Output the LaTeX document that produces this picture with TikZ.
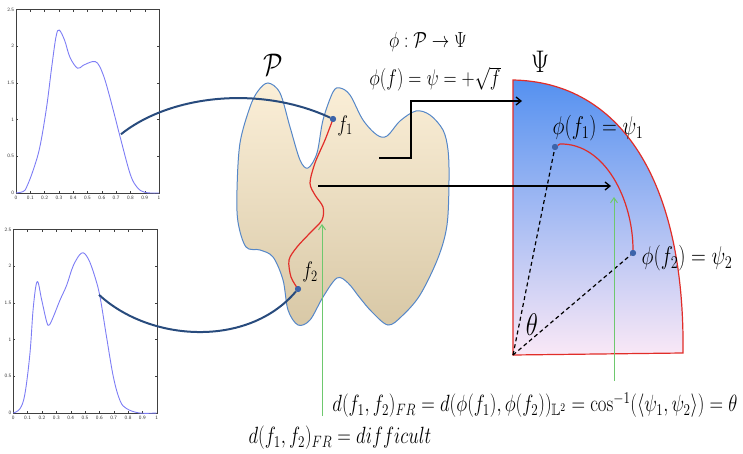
\RequirePackage{fix-cm}
\documentclass[tikz,border=0pt]{standalone}
\usepackage{amsmath, amssymb}
\usepackage{graphicx}
\usetikzlibrary{positioning, arrows.meta}

\definecolor{pdfblue}{RGB}{125,125,245}
\definecolor{linkblue}{RGB}{40,75,125}
\definecolor{blobline}{RGB}{85,135,200}
\definecolor{blobtop}{RGB}{251,239,216}
\definecolor{blobbot}{RGB}{216,200,166}
\definecolor{dotblue}{RGB}{60,100,170}
\definecolor{geored}{RGB}{225,45,40}
\definecolor{sphtop}{RGB}{85,145,240}
\definecolor{sphbot}{RGB}{250,232,246}
\definecolor{arrgreen}{RGB}{110,200,110}

% text in the figure is a bit stretched vertically
\newcommand{\tall}[1]{\scalebox{1}[1.25]{#1}}

% frame, ticks and tick labels of one density plot (data units)
\newcommand{\pdfframe}{%
  \draw[black!75, line width=0.4pt] (0,0) rectangle (1,2.5);
  \foreach \t in {0,0.1,0.2,0.3,0.4,0.5,0.6,0.7,0.8,0.9,1} {
    \draw[black!75, line width=0.3pt] (\t,0) -- ++(0,0.03);
    \draw[black!75, line width=0.3pt] (\t,2.5) -- ++(0,-0.03);
    \node[ticklbl, anchor=north] at (\t,-0.02) {\t};
  }
  \foreach \v in {0,0.5,1,1.5,2,2.5} {
    \draw[black!75, line width=0.3pt] (0,\v) -- ++(0.015,0);
    \draw[black!75, line width=0.3pt] (1,\v) -- ++(-0.015,0);
    \node[ticklbl, anchor=east] at (-0.005,\v) {\v};
  }
}

\begin{document}
\begin{tikzpicture}[x=1pt, y=-1pt,
    lbl/.style={inner sep=0pt, font=\fontsize{18.8}{22}\selectfont},
    ticklbl/.style={inner sep=1pt, font=\sffamily\fontsize{5}{6}\selectfont, black!80},
    density/.style={pdfblue, line width=0.9pt},
    dot/.style={circle, fill=dotblue, inner sep=0pt, minimum size=6pt},
    link/.style={linkblue, line width=2pt},
    map/.style={-{Straight Barb[length=5pt, width=8pt]}, line width=1.3pt},
    pointer/.style={-{Straight Barb[length=5pt, width=7pt]}, arrgreen, line width=1pt},
    geo/.style={geored, line width=1.2pt},
    ray/.style={dash pattern=on 4pt off 3pt, line width=1.2pt}
]
\useasboundingbox (0,0) rectangle (743,454);

% Densities on the left
\begin{scope}[shift={(16,193)}, xscale=143, yscale=-73.4]
  \pdfframe
  \draw[density] plot[smooth, tension=0.6] coordinates {(0,0) (0.05,0.02) (0.074,0.08) (0.12,0.31) (0.167,0.63) (0.214,1.17) (0.25,1.72) (0.28,2.13) (0.302,2.22) (0.34,2.08) (0.377,1.85) (0.43,1.7) (0.47,1.74) (0.535,1.79) (0.57,1.77) (0.6,1.66) (0.63,1.49) (0.68,1.13) (0.73,0.75) (0.8,0.25) (0.85,0.07) (0.9,0.01) (0.95,0) (1,0)};
  \coordinate (src1) at (0.734,0.8);
\end{scope}
\begin{scope}[shift={(13.3,413)}, xscale=143.4, yscale=-73.4]
  \pdfframe
  \draw[density] plot[smooth, tension=0.6] coordinates {(0,0) (0.047,0.06) (0.081,0.26) (0.116,0.81) (0.14,1.45) (0.167,1.79) (0.198,1.54) (0.233,1.24) (0.251,1.2) (0.279,1.31) (0.326,1.54) (0.372,1.74) (0.419,2.01) (0.477,2.18) (0.523,2.1) (0.57,1.85) (0.605,1.58) (0.65,1.04) (0.698,0.49) (0.744,0.17) (0.79,0.06) (0.88,0) (1,0)};
  \coordinate (src2) at (0.598,1.61);
\end{scope}

% Space P of densities
\path[draw=blobline, line width=1pt, top color=blobtop, bottom color=blobbot]
  plot[smooth cycle, tension=0.55] coordinates {(268,83) (280,93) (290,127) (300,160) (308,168) (317,153) (323,120) (333,92) (340,88) (350,95) (363,120) (377,135) (387,136) (400,121) (416,111) (430,115) (443,130) (448,150) (449,180) (447,225) (438,258) (420,295) (402,316) (388,325) (372,312) (360,298) (348,283) (337,278) (323,297) (310,320) (298,325) (288,310) (283,280) (273,257) (260,250) (246,247) (238,222) (237,190) (240,143) (250,107) (258,91)};
\node[lbl, font=\fontsize{25}{30}\selectfont] (Plbl) at (273,65) {\tall{$\mathcal{P}$}};

% Unit sphere Psi (positive orthant)
\coordinate (O) at (513,355);
\path[draw=geored, line width=1.2pt, top color=sphtop, bottom color=sphbot]
  (O) -- (513,80) .. controls (620,82) and (685,180) .. (683,353) -- cycle;
\node[lbl, font=\fontsize{25}{30}\selectfont] (Psilbl) at (540,62) {\tall{$\Psi$}};

% Points and geodesics
\node[dot] (f1) at (333,119) {};
\node[dot] (f2) at (298,289) {};
\node[dot] (psi1) at (555,147) {};
\node[dot] (psi2) at (633,253) {};

\draw[geo] (f1) plot[smooth] coordinates {(333,119) (325,140) (315,163) (310,183) (315,195) (323,207) (322,220) (310,233) (297,247) (289,260) (291,277) (298,289)};
\draw[geo] (psi1) -- (560,144) .. controls (605,143) and (633,200) .. (psi2);
\node[dot] at (f1) {};
\node[dot] at (f2) {};
\node[dot] at (psi1) {};
\node[dot] at (psi2) {};

\draw[ray] (O) -- (psi1);
\draw[ray] (O) -- (psi2);

% Densities mapped to points of P
\draw[link] (src1) .. controls (170,95) and (260,85) .. (f1);
\draw[link] (src2) .. controls (150,342) and (248,348) .. (f2);

% Map phi
\coordinate (e0) at (379,158);
\coordinate (e1) at (522,101);
\draw[map] (e0) -- ++(32,0) |- (e1);
\coordinate (a0) at (318,186);
\coordinate (a1) at (611,186);
\draw[map] (a0) -- (a1);

% Labels
\node[lbl, font=\fontsize{17.5}{21}\selectfont] (phimap) at (428,42) {\tall{$\phi:\mathcal{P}\to\Psi$}};
\node[lbl, font=\fontsize{18.1}{22}\selectfont] (phidef) at (435,79) {\tall{$\phi(f)=\psi=+\sqrt{f}$}};
\node[lbl, font=\fontsize{18}{22}\selectfont] (f1lbl) at (345,126) {\tall{$f_1$}};
\node[lbl, font=\fontsize{18}{22}\selectfont] (f2lbl) at (310,272) {\tall{$f_2$}};
\node[lbl, font=\fontsize{20.5}{24}\selectfont] (psi1lbl) at (598,128) {\tall{$\phi(f_1)=\psi_1$}};
\node[lbl, font=\fontsize{20.5}{24}\selectfont] (psi2lbl) at (687,258) {\tall{$\phi(f_2)=\psi_2$}};
\node[lbl, font=\fontsize{25}{30}\selectfont] (thetalbl) at (532,325) {\tall{$\theta$}};

% Distances
\node[lbl] (dsphere) at (535,405) {\tall{$d(f_1,f_2)_{FR}=d(\phi(f_1),\phi(f_2))_{\mathbb{L}^2}=\cos^{-1}(\langle\psi_1,\psi_2\rangle)=\theta$}};
\node[lbl] (dhard) at (340,438) {\tall{$d(f_1,f_2)_{FR}=difficult$}};
\coordinate (g0) at (322,416);
\coordinate (g1) at (322,224);
\coordinate (h0) at (614,381);
\coordinate (h1) at (614,197);
\draw[pointer] (g0) -- (g1);
\draw[pointer] (h0) -- (h1);
\end{tikzpicture}
\end{document}
